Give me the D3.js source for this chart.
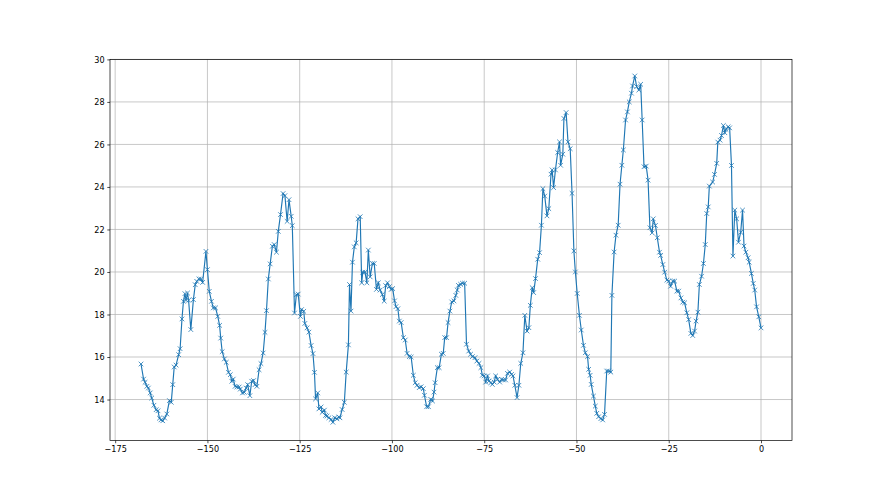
<!DOCTYPE html>
<meta charset="utf-8">
<script src="https://d3js.org/d3.v7.min.js"></script>
<style>
body { margin: 0; background: #fff; }
.grid line { stroke: #b0b0b0; stroke-width: 0.7px; }
.axis text { font: 9px "DejaVu Sans Condensed", "DejaVu Sans", sans-serif; font-stretch: condensed; fill: #000; }
.axis path, .axis line { stroke: #000; stroke-width: 0.7px; }
.series { fill: none; stroke: #1f77b4; stroke-width: 1.15px; }
.marker { stroke: #1f77b4; stroke-width: 0.8px; }
</style>
<svg width="880" height="495"></svg>
<script>

// hours before now (x) and temperature readings (y)
var hours = [
  -168.0, -167.3, -166.9, -166.4, -166.0, -165.5, -165.1, -164.5, -163.9, -163.4,
  -163.0, -162.6, -162.1, -161.6, -161.0, -160.3, -159.8, -159.4, -159.0, -158.5,
  -157.8, -157.4, -156.9, -156.5, -156.1, -155.8, -155.4, -155.1, -154.5, -153.8,
  -153.3, -152.9, -152.3, -151.8, -151.3, -150.4, -150.0, -149.5, -148.9, -148.4,
  -147.8, -147.2, -146.7, -146.4, -146.0, -145.4, -144.9, -144.3, -143.8, -143.4,
  -143.0, -142.5, -142.0, -141.4, -141.1, -140.5, -140.0, -139.5, -139.1, -138.5,
  -138.0, -137.5, -137.1, -136.6, -136.0, -135.5, -134.9, -134.4, -134.0, -133.5,
  -133.0, -132.4, -131.9, -131.3, -130.8, -130.2, -129.5, -129.0, -128.4, -127.9,
  -127.3, -127.0, -126.4, -125.9, -125.4, -124.8, -124.5, -123.9, -123.6, -123.0,
  -122.5, -121.9, -121.4, -121.0, -120.7, -120.1, -119.8, -119.2, -118.9, -118.3,
  -118.0, -117.6, -117.1, -116.5, -116.0, -115.5, -114.9, -114.4, -114.1, -113.5,
  -112.9, -112.4, -111.8, -111.5, -111.1, -110.7, -110.2, -109.7, -109.2, -108.6,
  -108.2, -107.9, -107.3, -106.8, -106.4, -105.9, -105.3, -104.8, -104.2, -103.7,
  -103.2, -102.6, -102.1, -101.7, -101.2, -100.7, -100.2, -99.8, -99.3, -98.9,
  -98.4, -98.0, -97.5, -96.9, -96.4, -95.9, -95.3, -94.8, -94.2, -93.7,
  -93.2, -92.6, -92.1, -91.5, -91.2, -90.6, -90.1, -89.5, -89.0, -88.6,
  -88.3, -87.7, -87.2, -86.6, -86.1, -85.7, -85.2, -84.8, -84.3, -83.8,
  -83.2, -82.7, -82.3, -82.0, -81.4, -80.9, -80.3, -79.8, -79.2, -78.7,
  -78.2, -77.5, -77.0, -76.4, -75.9, -75.5, -75.0, -74.6, -74.1, -73.7,
  -73.2, -72.8, -72.3, -71.9, -71.4, -70.8, -70.3, -69.8, -69.2, -68.7,
  -68.1, -67.6, -67.2, -66.7, -66.1, -65.6, -65.1, -64.5, -64.0, -63.4,
  -62.9, -62.5, -62.0, -61.6, -61.1, -60.5, -60.0, -59.5, -59.1, -58.6,
  -58.0, -57.5, -56.9, -56.6, -56.2, -55.7, -55.1, -54.6, -54.3, -53.7,
  -53.4, -52.8, -52.3, -51.7, -51.2, -50.7, -50.3, -49.8, -49.2, -48.7,
  -48.1, -47.6, -47.0, -46.7, -46.3, -46.0, -45.4, -44.9, -44.5, -44.0,
  -43.4, -42.9, -42.4, -41.8, -41.3, -40.7, -40.4, -39.8, -39.3, -38.7,
  -38.2, -37.7, -37.3, -36.7, -36.2, -35.7, -35.1, -34.8, -34.2, -33.7,
  -33.1, -32.6, -32.2, -31.7, -31.1, -30.6, -30.1, -29.5, -29.2, -28.6,
  -28.1, -27.5, -27.2, -26.6, -26.1, -25.5, -25.0, -24.5, -23.9, -23.4,
  -22.8, -22.3, -21.7, -21.2, -20.7, -20.1, -19.6, -19.0, -18.5, -18.0,
  -17.6, -17.1, -16.7, -16.1, -15.6, -15.1, -14.7, -14.3, -14.0, -13.1,
  -12.6, -12.0, -11.7, -11.1, -10.7, -10.2, -9.8, -9.5, -8.9, -8.5,
  -8.0, -7.6, -7.1, -6.6, -6.1, -5.5, -5.0, -4.6, -4.1, -3.5,
  -3.2, -2.6, -2.1, -1.7, -1.2, -0.6, 0.0
];

var temps = [
  15.67, 14.96, 14.81, 14.62, 14.54, 14.31, 14.07, 13.73, 13.52, 13.47,
  13.12, 13.04, 13.00, 13.13, 13.32, 13.95, 13.87, 14.70, 15.53, 15.62,
  16.11, 16.39, 17.79, 18.62, 18.98, 18.67, 19.01, 18.67, 17.29, 18.70,
  19.40, 19.56, 19.67, 19.67, 19.51, 20.97, 20.11, 19.09, 18.62, 18.31,
  18.31, 17.91, 17.49, 16.89, 16.25, 15.91, 15.75, 15.28, 15.17, 14.86,
  14.96, 14.62, 14.59, 14.59, 14.49, 14.31, 14.34, 14.54, 14.70, 14.18,
  14.86, 14.89, 14.70, 14.62, 15.40, 15.69, 16.19, 17.16, 18.18, 19.67,
  20.38, 21.21, 21.29, 20.93, 21.91, 22.70, 23.69, 23.59, 22.38, 23.40,
  22.62, 22.18, 18.07, 18.93, 18.96, 17.91, 18.23, 18.15, 17.58, 17.37,
  17.17, 16.54, 16.16, 15.28, 14.03, 14.31, 13.56, 13.65, 13.40, 13.50,
  13.25, 13.22, 13.14, 13.06, 12.93, 13.14, 13.09, 13.18, 13.14, 13.53,
  13.87, 15.29, 16.57, 19.41, 18.16, 20.46, 21.18, 21.37, 22.50, 22.60,
  19.49, 19.99, 19.99, 19.49, 21.03, 19.77, 20.40, 20.40, 19.18, 19.49,
  19.15, 18.94, 18.63, 19.36, 19.49, 19.31, 19.18, 19.22, 18.64, 18.37,
  18.27, 17.69, 17.62, 16.91, 16.80, 16.17, 16.02, 16.00, 15.14, 14.79,
  14.67, 14.56, 14.60, 14.51, 14.20, 13.66, 13.66, 14.01, 13.93, 14.35,
  14.79, 15.50, 15.50, 16.13, 16.17, 16.91, 16.91, 17.62, 18.16, 18.59,
  18.64, 18.90, 19.15, 19.37, 19.42, 19.47, 19.47, 16.60, 16.28, 16.13,
  16.02, 15.97, 15.81, 15.70, 15.50, 15.14, 15.11, 14.82, 15.11, 14.87,
  14.79, 14.71, 14.82, 15.11, 14.95, 14.82, 14.95, 14.92, 14.92, 15.23,
  15.29, 15.18, 15.11, 14.67, 14.09, 14.67, 15.70, 16.20, 17.96, 17.22,
  17.38, 18.43, 19.26, 19.03, 19.69, 20.60, 20.91, 22.20, 23.92, 23.57,
  22.64, 22.98, 24.60, 24.80, 23.97, 24.80, 25.62, 26.12, 25.02, 25.54,
  27.22, 27.50, 26.12, 25.80, 23.70, 20.99, 20.00, 18.99, 17.96, 17.27,
  16.55, 16.20, 16.02, 15.42, 15.14, 14.71, 14.16, 13.69, 13.35, 13.19,
  13.10, 13.04, 13.30, 15.34, 15.34, 15.29, 18.90, 20.94, 21.73, 22.20,
  24.13, 25.02, 25.74, 27.15, 27.53, 28.00, 28.41, 28.75, 29.22, 28.72,
  28.56, 28.83, 27.15, 24.95, 24.98, 24.32, 22.08, 21.84, 22.50, 22.19,
  21.61, 20.93, 20.78, 20.35, 19.99, 19.62, 19.57, 19.33, 19.57, 19.57,
  19.10, 19.10, 18.78, 18.58, 18.55, 18.08, 17.76, 17.11, 17.01, 17.22,
  17.69, 18.11, 19.41, 19.80, 20.40, 21.29, 22.75, 23.06, 24.04, 24.23,
  24.59, 25.11, 26.11, 26.20, 26.42, 26.89, 26.55, 26.71, 26.83, 26.78,
  25.01, 20.75, 22.91, 22.50, 21.40, 21.87, 22.91, 21.22, 20.93, 20.67,
  20.46, 19.93, 19.46, 19.15, 18.36, 17.89, 17.37
];

var xTicks = [-175, -150, -125, -100, -75, -50, -25, 0];
var yTicks = [14, 16, 18, 20, 22, 24, 26, 28, 30];

var svg = d3.select("svg"),
    width = +svg.attr("width"),
    height = +svg.attr("height"),
    margin = {top: 59.4, right: 88, bottom: 54.45, left: 110},
    w = width - margin.left - margin.right,
    h = height - margin.top - margin.bottom;

var g = svg.append("g").attr("transform", "translate(" + margin.left + "," + margin.top + ")");

// matplotlib style 5% padding on x
var xExt = d3.extent(hours), xPad = (xExt[1] - xExt[0]) * 0.05;
var x = d3.scaleLinear().domain([xExt[0] - xPad, xExt[1] + xPad]).range([0, w]);
var y = d3.scaleLinear().domain([12.07, 30]).range([h, 0]);

// grid
g.append("g").attr("class", "grid")
  .selectAll("line").data(xTicks).enter().append("line")
    .attr("x1", function(d) { return x(d); }).attr("x2", function(d) { return x(d); })
    .attr("y1", 0).attr("y2", h);
g.append("g").attr("class", "grid")
  .selectAll("line").data(yTicks).enter().append("line")
    .attr("y1", function(d) { return y(d); }).attr("y2", function(d) { return y(d); })
    .attr("x1", 0).attr("x2", w);

var data = hours.map(function(d, i) { return [d, temps[i]]; });

var line = d3.line()
    .x(function(d) { return x(d[0]); })
    .y(function(d) { return y(d[1]); });

g.append("path").datum(data).attr("class", "series").attr("d", line);

var s = 2.3;
g.append("g").selectAll("path").data(data).enter().append("path")
    .attr("class", "marker")
    .attr("d", function(d) {
      var cx = x(d[0]), cy = y(d[1]);
      return "M" + (cx - s) + "," + (cy - s) + "L" + (cx + s) + "," + (cy + s) +
             "M" + (cx - s) + "," + (cy + s) + "L" + (cx + s) + "," + (cy - s);
    });

// axes
var xAxis = g.append("g").attr("class", "axis")
    .attr("transform", "translate(0," + h + ")")
    .call(d3.axisBottom(x).tickValues(xTicks).tickSize(2.7).tickPadding(2.7).tickFormat(d3.format("d")));
var yAxis = g.append("g").attr("class", "axis")
    .call(d3.axisLeft(y).tickValues(yTicks).tickSize(2.7).tickPadding(2.7).tickFormat(d3.format("d")));
xAxis.select(".domain").remove();
yAxis.select(".domain").remove();

// frame
g.append("rect").attr("width", w).attr("height", h)
    .attr("fill", "none").attr("stroke", "#000").attr("stroke-width", 0.7);

</script>
